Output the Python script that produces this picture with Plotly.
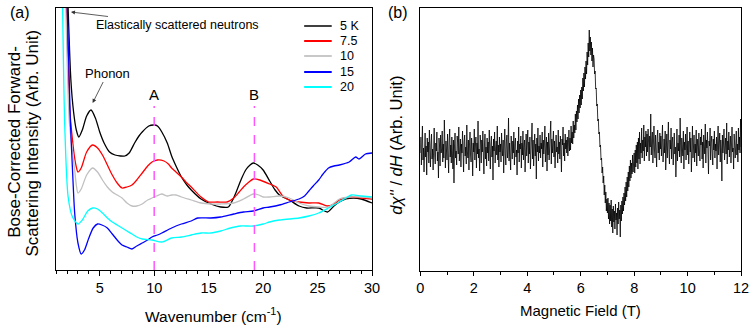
import plotly.graph_objects as go

W, H = 756, 327
FONT = "Arial, Liberation Sans, sans-serif"

# ---------------- Panel (a) data: wavenumber (cm^-1) vs intensity (arb.) -------------
x_5K = [1.9, 2.35, 2.6, 2.85, 3.08, 3.4, 3.8, 4.2, 4.6, 5.0, 5.4, 5.9, 6.4, 6.9, 7.3, 7.7, 8.2, 8.6, 8.9,
        9.5, 10.0, 10.3, 10.7, 11.2, 11.6, 12.0, 12.5, 13.0, 13.4, 14.3, 15.2, 16.1, 16.8, 17.2, 17.6,
        18.0, 18.4, 18.8, 19.1, 19.5, 20.0, 20.6, 21.1, 21.5, 22.4, 23.3, 24.0, 25.1, 25.9, 26.5, 27.0,
        27.6, 28.3, 29.0, 30.0]
y_5K = [330, 190, 158, 140, 133, 140, 154, 160, 152, 138, 127, 118, 115, 114, 114, 117, 127, 134, 138,
        144, 145, 144, 138, 127, 114, 104, 93, 85, 80, 71, 66, 63, 63, 70, 80,
        91, 100, 105, 107, 105, 100, 89, 80, 75, 70, 64, 62, 62, 58, 64, 68,
        71, 72, 71, 67]

x_7_5K = [1.8, 2.25, 2.5, 2.7, 2.85, 3.0, 3.3, 3.8, 4.35, 4.8, 5.25, 5.7, 6.15, 6.6, 7.05, 7.5, 7.96, 8.4,
          8.9, 9.4, 9.8, 10.3, 10.9, 11.3, 11.6, 12.0, 12.5, 13.0, 13.4, 14.3, 15.0, 15.8, 16.7, 17.3,
          17.8, 18.2, 18.7, 19.1, 19.7, 20.6, 21.2, 21.8, 22.4, 23.3, 24.2, 25.1, 25.9, 26.5, 27.0, 28.1,
          29.0, 30.0]
y_7_5K = [330, 160, 130, 112, 103, 98, 102, 118, 125, 122, 115, 105, 95, 87, 82, 83, 85, 90,
          97, 104, 108, 110, 109, 106, 102, 98, 93, 87, 83, 73, 68, 68, 68, 72,
          78, 83, 88, 91, 90, 86, 83, 74, 70, 68, 67, 67, 64, 66, 70, 73,
          72, 71]

x_10K = [1.75, 2.2, 2.5, 2.7, 2.85, 3.0, 3.3, 3.8, 4.35, 4.8, 5.25, 5.7, 6.15, 6.6, 7.05, 7.5, 7.96, 8.4,
         8.9, 9.4, 9.8, 10.2, 10.7, 11.2, 11.6, 12.0, 12.5, 13.4, 14.3, 15.2, 16.1, 17.3, 18.2, 19.1,
         19.6, 20.0, 20.6, 21.5, 22.4, 23.3, 24.2, 25.1, 26.0, 27.0, 27.9, 29.0, 30.0]
y_10K = [330, 150, 118, 100, 85, 77, 81, 95, 102, 98, 90, 83, 78, 75, 72, 67, 64, 64,
         66, 70, 72, 74, 76, 74, 75, 75, 73, 70, 67, 66, 66, 67, 71, 76,
         75, 73, 73, 74, 72, 67, 64, 63, 63, 71, 73, 73, 72]

x_15K = [1.85, 2.3, 2.5, 2.7, 3.0, 3.3, 3.6, 4.0, 4.4, 4.8, 5.2, 5.7, 6.15, 6.6, 7.05, 7.5, 7.96, 8.4,
         8.9, 9.4, 9.8, 10.3, 10.7, 11.6, 12.5, 13.4, 14.0, 15.2, 16.1, 17.3, 18.2, 19.1, 20.0, 20.6,
         21.5, 22.4, 23.3, 23.8, 24.2, 24.6, 25.1, 25.5, 26.0, 26.5, 27.0, 27.9, 28.5, 28.8, 29.4, 30.0]
y_15K = [330, 150, 100, 57, 27, 16, 20, 32, 42, 46, 45, 42, 36, 30, 25, 23, 21, 24,
         27, 30, 33, 35, 37, 42, 46, 49, 52, 52, 53, 56, 58, 59, 62, 63,
         65, 68, 71, 74, 79, 84, 90, 96, 102, 104, 105, 108, 113, 111, 116, 117]

x_20K = [1.5, 1.8, 2.1, 2.5, 3.0, 3.4, 3.9, 4.35, 4.8, 5.25, 5.7, 6.15, 6.6, 7.05, 7.5, 7.96, 8.4, 8.9,
         9.8, 10.7, 11.6, 12.5, 13.4, 14.3, 15.2, 16.1, 17.0, 17.9, 19.1, 20.0, 20.6, 21.5, 22.4, 23.3,
         24.2, 25.1, 26.0, 27.0, 27.6, 28.1, 29.0, 30.0]
y_20K = [330, 140, 73, 53, 46, 50, 59, 62, 61, 57, 52, 48, 45, 42, 39, 36, 33, 31,
         30, 28, 32, 33, 35, 37, 37, 39, 42, 44, 44, 46, 48, 50, 51, 52,
         54, 57, 62, 68, 72, 75, 74, 73]

series_names = ["5 K", "7.5", "10", "15", "20"]
series_colors = ["#000000", "#FF0000", "#C0C0C0", "#0000FF", "#00FFFF"]
legend_colors = ["#404040", "#FF0000", "#C8C8C8", "#0000FF", "#00FFFF"]

mode_x = [10.0, 19.2]
mode_labels = ["A", "B"]

# ---------------- Panel (b) data: magnetic field (T) vs dchi''/dH (arb.) ---------------
field_step = 0.02
esr_signal = [
    118, 134, 106, 127, 145, 111, 123, 99, 131, 138, 114, 125, 96, 133, 119, 129, 108, 141, 117, 104, 126, 137, 112, 122, 101,
    130, 143, 115, 107, 128, 120, 139, 110, 119, 93, 133, 125, 105, 136, 118, 122, 140, 109, 127, 113, 151, 116, 103, 130, 124,
    111, 137, 121, 98, 129, 142, 114, 126, 108, 134, 119, 102, 131, 88, 125, 138, 113, 120, 106, 135, 128, 117, 144, 110, 123,
    132, 104, 127, 118, 140, 112, 99, 129, 136, 115, 124, 107, 146, 120, 113, 131, 101, 126, 139, 116, 109, 133, 122, 95, 128,
    119, 142, 111, 125, 134, 103, 128, 117, 150, 113, 122, 100, 136, 127, 108, 131, 119, 140, 115, 97, 126, 137, 112, 124, 105,
    133, 118, 129, 110, 141, 121, 102, 127, 135, 114, 125, 91, 132, 120, 139, 108, 123, 130, 116, 145, 111, 126, 104, 134, 119,
    127, 109, 138, 122, 115, 131, 98, 124, 142, 117, 106, 129, 136, 113, 121, 153, 110, 128, 119, 101, 135, 124, 112, 130, 118,
    139, 106, 126, 133, 114, 121, 96, 130, 118, 144, 109, 127, 122, 135, 103, 128, 116, 140, 111, 125, 131, 99, 123, 137, 115,
    124, 141, 108, 129, 117, 134, 102, 126, 120, 148, 112, 131, 105, 123, 137, 115, 127, 92, 133, 119, 143, 110, 125, 118, 136,
    113, 128, 122, 139, 104, 131, 117, 126, 145, 109, 121, 134, 100, 129, 116, 138, 111, 127, 123, 150, 107, 132, 118, 125, 140,
    114, 130, 103, 127, 136, 119, 124, 108, 141, 117, 129, 112, 135, 121, 99, 132, 126, 144, 115, 128, 110, 137, 122, 131, 118,
    134, 115, 127, 141, 120, 133, 121, 145, 128, 139, 127, 150, 133, 146, 138, 157, 141, 160, 149, 166, 152, 172, 158, 176, 163,
    181, 166, 184, 172, 193, 180, 198, 184, 204, 192, 210, 197, 219, 206, 228, 214, 241, 220, 234, 216, 229, 210, 223, 204, 216,
    212, 197, 200, 182, 183, 165, 167, 150, 152, 137, 139, 124, 126, 111, 113, 98, 104, 88, 95, 76, 86, 68, 79, 60, 72,
    58, 73, 52, 68, 47, 66, 50, 71, 44, 62, 38, 65, 49, 60, 42, 67, 51, 58, 36, 63, 47, 69, 52, 61, 34,
    66, 50, 70, 57, 74, 60, 78, 66, 84, 70, 89, 74, 94, 80, 99, 84, 105, 90, 111, 93, 108, 97, 116, 99, 112,
    118, 98, 121, 104, 126, 108, 129, 102, 133, 112, 139, 107, 128, 118, 143, 113, 131, 120, 146, 110, 134, 124, 140, 115, 137,
    119, 142, 128, 110, 135, 124, 157, 116, 131, 139, 108, 127, 145, 121, 113, 136, 126, 104, 133, 141, 118, 129, 111, 138, 122,
    135, 115, 128, 146, 109, 124, 132, 118, 140, 101, 127, 137, 113, 125, 149, 119, 107, 131, 122, 143, 112, 129, 134, 106, 126,
    138, 117, 124, 94, 131, 142, 110, 128, 120, 136, 114, 153, 123, 108, 133, 127, 115, 140, 102, 129, 121, 137, 111, 126, 144,
    116, 130, 107, 125, 139, 119, 133, 99, 128, 145, 113, 122, 136, 109, 127, 118, 141, 105, 132, 124, 115, 138, 121, 110, 134,
    126, 142, 112, 129, 103, 136, 120, 117, 147, 108, 131, 123, 139, 114, 97, 130, 125, 143, 111, 128, 135, 118, 106, 132, 121,
    140, 113, 127, 120, 134, 102, 129, 145, 116, 124, 138, 109, 131, 122, 90, 136, 118, 127, 142, 111, 125, 133, 117, 148, 107,
    130, 121, 139, 114, 126, 135, 108, 128, 144, 119, 123, 102, 137, 125, 113, 131, 140, 116, 127, 109, 143, 121, 134, 118, 152,
    124,
]
field = [round(i * field_step, 4) for i in range(len(esr_signal))]


def px(x):
    return x / W


def py(y):
    return 1 - y / H


fig = go.Figure()

xs = [x_5K, x_7_5K, x_10K, x_15K, x_20K]
ys = [y_5K, y_7_5K, y_10K, y_15K, y_20K]
for name, xv, yv, col in zip(series_names, xs, ys, series_colors):
    fig.add_trace(go.Scatter(x=xv, y=yv, mode="lines", name=name,
                             line=dict(color=col, width=1.3, shape="spline", smoothing=0.7),
                             xaxis="x", yaxis="y", showlegend=False, hoverinfo="skip"))

fig.add_trace(go.Scatter(x=field, y=esr_signal, mode="lines", name="ESR",
                         line=dict(color="#000000", width=0.8),
                         xaxis="x2", yaxis="y2", showlegend=False, hoverinfo="skip"))

axis_common = dict(showline=True, linecolor="black", linewidth=1, mirror=True,
                   showgrid=False, zeroline=False)

fig.update_layout(
    width=W, height=H,
    margin=dict(l=0, r=0, t=0, b=0),
    paper_bgcolor="white", plot_bgcolor="white",
    font=dict(family=FONT, color="black", size=13),
    xaxis=dict(domain=[px(53), px(374)], range=[1, 30], tickmode="linear", tick0=0, dtick=5,
               ticks="outside", ticklen=5, tickwidth=1, tickcolor="black",
               minor=dict(dtick=1, tick0=0, ticks="outside", ticklen=3, tickcolor="black"),
               tickfont=dict(size=14.5, family=FONT), anchor="y", **axis_common),
    yaxis=dict(domain=[py(270), py(8)], range=[0, 262], showticklabels=False, ticks="",
               anchor="x", **axis_common),
    xaxis2=dict(domain=[px(423), px(749)], range=[0, 12], tickmode="linear", tick0=0, dtick=2,
                ticks="outside", ticklen=4, tickwidth=1, tickcolor="black",
                minor=dict(dtick=1, tick0=0, ticks="outside", ticklen=3, tickcolor="black"),
                tickfont=dict(size=14.5, family=FONT), anchor="y2", **axis_common),
    yaxis2=dict(domain=[py(271), py(8)], range=[0, 263], showticklabels=False, ticks="",
                anchor="x2", **axis_common),
)

# dashed mode markers A, B
for xm, lab in zip(mode_x, mode_labels):
    fig.add_shape(type="line", xref="x", yref="y", x0=xm, x1=xm, y0=0, y1=164,
                  line=dict(color="#FF55FF", width=1.5, dash="dash"))
    fig.add_annotation(xref="x", yref="y", x=xm, y=176, text=lab, showarrow=False,
                       font=dict(size=15, family=FONT), xanchor="center", yanchor="middle")

# legend drawn manually
legend_rows = [26, 41, 56, 72, 87]
for name, col, yr in zip(series_names, legend_colors, legend_rows):
    fig.add_shape(type="line", xref="paper", yref="paper", x0=px(305), x1=px(333),
                  y0=py(yr), y1=py(yr), line=dict(color=col, width=2))
    fig.add_annotation(xref="paper", yref="paper", x=px(339), y=py(yr), text=name,
                       showarrow=False, xanchor="left", yanchor="middle",
                       font=dict(size=12.5, family=FONT))

# labelled arrows
fig.add_annotation(xref="x", yref="y", x=2.36, y=258, ax=107, ay=13,
                   text="Elastically scattered neutrons", showarrow=True, arrowhead=2,
                   arrowsize=1, arrowwidth=0.8, arrowcolor="#333333",
                   font=dict(size=12.5, family=FONT))
fig.add_annotation(xref="x", yref="y", x=4.35, y=167, ax=15, ay=-30,
                   text="Phonon", showarrow=True, arrowhead=2,
                   arrowsize=1, arrowwidth=0.8, arrowcolor="#333333",
                   font=dict(size=13, family=FONT))

# panel labels
fig.add_annotation(xref="paper", yref="paper", x=px(4), y=py(12), text="(a)", showarrow=False,
                   xanchor="left", yanchor="middle", font=dict(size=16, family=FONT))
fig.add_annotation(xref="paper", yref="paper", x=px(388), y=py(12), text="(b)", showarrow=False,
                   xanchor="left", yanchor="middle", font=dict(size=16, family=FONT))

# axis titles
fig.add_annotation(xref="paper", yref="paper", x=px(10), y=py(142),
                   text="Bose-Corrected Forward-",
                   showarrow=False, textangle=-90, xanchor="center", yanchor="middle",
                   font=dict(size=17, family=FONT))
fig.add_annotation(xref="paper", yref="paper", x=px(28), y=py(143),
                   text="Scattering Intensity (Arb. Unit)",
                   showarrow=False, textangle=-90, xanchor="center", yanchor="middle",
                   font=dict(size=17, family=FONT))
fig.add_annotation(xref="paper", yref="paper", x=px(213), y=py(315),
                   text="Wavenumber (cm<sup>-1</sup>)", showarrow=False,
                   xanchor="center", yanchor="middle", font=dict(size=15.5, family=FONT))
fig.add_annotation(xref="paper", yref="paper", x=px(398), y=py(145),
                   text="<i>d\u03c7''</i> / <i>dH</i> (Arb. Unit)", showarrow=False, textangle=-90,
                   xanchor="center", yanchor="middle", font=dict(size=16.5, family=FONT))
fig.add_annotation(xref="paper", yref="paper", x=px(586), y=py(310),
                   text="Magnetic Field (T)", showarrow=False,
                   xanchor="center", yanchor="middle", font=dict(size=15, family=FONT))

fig.write_html("out.html", config={"displayModeBar": False},
               post_script="document.body.style.margin='0';")
